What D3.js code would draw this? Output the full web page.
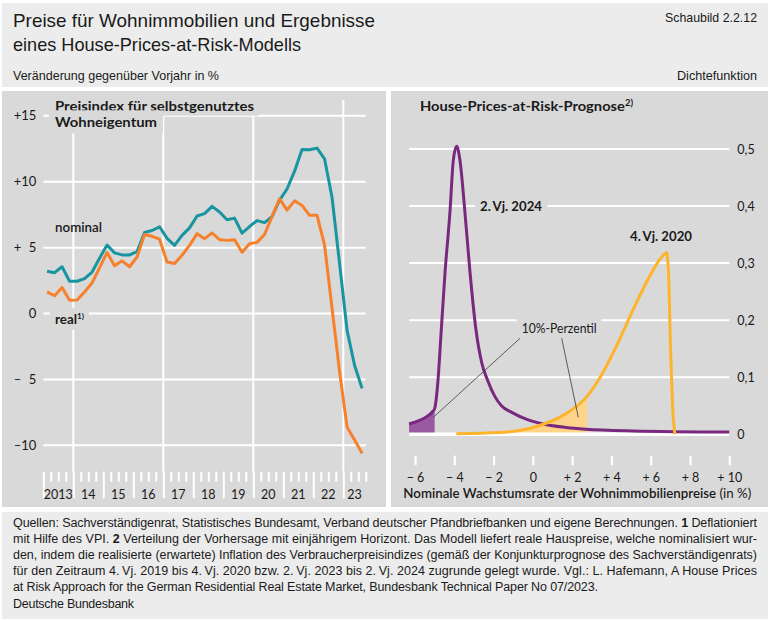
<!DOCTYPE html>
<html><head><meta charset="utf-8">
<script src="https://cdn.jsdelivr.net/npm/d3@7"></script>
<style>body{margin:0;background:#fff} svg{display:block}</style>
</head><body><svg id="c" width="770" height="621"></svg>
<script>
// ---------- DATA ----------
const quarterLabels = [
 "2013Q1","2013Q2","2013Q3","2013Q4","2014Q1","2014Q2","2014Q3","2014Q4",
 "2015Q1","2015Q2","2015Q3","2015Q4","2016Q1","2016Q2","2016Q3","2016Q4",
 "2017Q1","2017Q2","2017Q3","2017Q4","2018Q1","2018Q2","2018Q3","2018Q4",
 "2019Q1","2019Q2","2019Q3","2019Q4","2020Q1","2020Q2","2020Q3","2020Q4",
 "2021Q1","2021Q2","2021Q3","2021Q4","2022Q1","2022Q2","2022Q3","2022Q4",
 "2023Q1","2023Q2","2023Q3"];
const nominal = [3.2,3.1,3.55,2.45,2.45,2.65,3.15,4.2,5.2,4.6,4.45,4.45,4.7,6.15,6.3,6.58,
 5.7,5.17,5.93,6.5,7.4,7.58,8.13,7.7,7.12,7.24,6.1,6.6,7.05,6.9,7.35,8.6,
 9.45,10.8,12.45,12.42,12.55,11.74,8.8,3.8,-1.26,-3.92,-5.68];
const real = [1.64,1.35,1.97,1.0,1.03,1.64,2.32,3.47,4.63,3.62,4.0,3.55,4.29,6.0,5.86,5.64,
 3.91,3.79,4.42,5.17,6.06,5.68,6.11,5.6,5.55,5.6,4.65,5.3,5.4,6.0,7.35,8.7,
 7.85,8.55,8.2,7.45,7.45,5.2,0.4,-4.4,-8.6,-9.6,-10.6];
const yearLabels = ["2013","14","15","16","17","18","19","20","21","22","23"];
const leftYTicks = [15,10,5,0,-5,-10];
const leftYTickLabels = ["+15","+10","+\u20075","0","\u2013\u20075","\u201310"];
const leftVGrid = [2014,2017,2020,2023];

const growth2024 = [-6.3,-5.8,-5.4,-5.1,-5.0,-4.9,-4.8,-4.69,-4.47,-4.22,-4.05,-3.88,-3.71,-3.46,-3.2,-2.9,-2.6,-2.32,-1.93,-1.6,-1.05,-0.3,0.4,1.7,2.7,5.1,10.0];
const density2024 = [0.018,0.024,0.031,0.04,0.045,0.068,0.108,0.168,0.284,0.39,0.48,0.505,0.48,0.39,0.284,0.184,0.125,0.096,0.066,0.05,0.038,0.026,0.019,0.012,0.009,0.006,0.004];
const growth2020 = [-3.9,-1.7,-0.5,0.0,0.87,1.72,2.75,3.41,4.26,5.11,5.96,6.5,6.81,6.91,7.01,7.11,7.23];
const density2020 = [0.001,0.003,0.008,0.012,0.022,0.037,0.066,0.099,0.155,0.219,0.278,0.308,0.318,0.28,0.15,0.05,0.0];
const pct10_2024 = -5.0, pct10_2020 = 2.75;
const rightXTicks = [-6,-4,-2,0,2,4,6,8,10];
const rightXTickLabels = ["\u2212 6","\u2212 4","\u2212 2","0","+ 2","+ 4","+ 6","+ 8","+ 10"];
const rightYTicks = [0,0.1,0.2,0.3,0.4,0.5];
const rightYTickLabels = ["0","0,1","0,2","0,3","0,4","0,5"];

// ---------- STYLE ----------
const FONT = "Lato, 'Open Sans', sans-serif";
const COND = "'Liberation Sans Narrow', 'Liberation Sans', Arial, sans-serif";
const INK = "#1a1a1a";
const C_TEAL = "#1895a0", C_ORANGE = "#f7802d", C_PURPLE = "#79287f", C_YELLOW = "#fdb42b";
const C_PURPLE_FILL = "#9a5aa2", C_YELLOW_FILL = "#fed48a";
const BG_LIGHT = "#ececec", BG_PANEL = "#d9d9d9";

const svg = d3.select("#c");
svg.append("rect").attr("width",770).attr("height",621).attr("fill","#fff");
svg.append("rect").attr("x",2).attr("y",3).attr("width",766).attr("height",84).attr("fill",BG_LIGHT);
svg.append("rect").attr("x",2).attr("y",91).attr("width",384).attr("height",416).attr("fill",BG_PANEL);
svg.append("rect").attr("x",391).attr("y",91).attr("width",377).attr("height",416).attr("fill",BG_PANEL);
svg.append("rect").attr("x",2).attr("y",512).attr("width",766).attr("height",107).attr("fill",BG_LIGHT);

function addText(parent, x, y, parts, o = {}) {
  const t = parent.append("text").attr("x", x).attr("y", y)
    .attr("font-family", o.family || FONT).attr("font-size", o.size || 12)
    .attr("font-weight", o.weight || "normal").attr("fill", o.fill || INK)
    .attr("text-anchor", o.anchor || "start").style("white-space", "pre");
  (Array.isArray(parts) ? parts : [[parts]]).forEach(p => {
    const ts = t.append("tspan").text(p[0]);
    if (p[1]) for (const k in p[1]) ts.attr(k, p[1][k]);
  });
  if (o.len) t.attr("textLength", o.len).attr("lengthAdjust", o.adjust || "spacingAndGlyphs");
  return t;
}
function bgBox(t, padX, padY, fill) {
  const b = t.node().getBBox();
  const r = document.createElementNS("http://www.w3.org/2000/svg", "rect");
  t.node().parentNode.insertBefore(r, t.node());
  d3.select(r).attr("x", b.x - padX).attr("y", b.y - padY).attr("width", b.width + 2*padX)
   .attr("height", b.height + 2*padY).attr("fill", fill);
}

// ---------- HEADER ----------
addText(svg, 13, 27, "Preise für Wohnimmobilien und Ergebnisse", {family: COND, size: 19, len: 362});
addText(svg, 13, 50.5, "eines House-Prices-at-Risk-Modells", {family: COND, size: 19, len: 288});
addText(svg, 757, 22, "Schaubild 2.2.12", {family: COND, size: 13, anchor: "end", len: 92});
addText(svg, 13, 80, "Veränderung gegenüber Vorjahr in %", {family: COND, size: 13, len: 206});
addText(svg, 757, 80, "Dichtefunktion", {family: COND, size: 13, anchor: "end", len: 80});

// ---------- LEFT CHART ----------
const gL = svg.append("g");
const xL = d3.scaleLinear().domain([2013, 2023.75]).range([43.3, 365.8]);
const yL = d3.scaleLinear().domain([-12, 16.2]).range([471.7, 100]);
const qPos = q => +q.slice(0,4) + (+q[5] - 1) * 0.25 + 0.125;

gL.selectAll(".hg").data(leftYTicks).join("line")
  .attr("x1", xL(2013)).attr("x2", xL(2023.75)).attr("y1", d => yL(d)).attr("y2", d => yL(d))
  .attr("stroke", "#fff").attr("stroke-width", 2);
gL.selectAll(".vg").data(leftVGrid).join("line")
  .attr("x1", d => xL(d)).attr("x2", d => xL(d)).attr("y1", yL(16.2)).attr("y2", yL(-12))
  .attr("stroke", "#fff").attr("stroke-width", 2);

const yAxisL = d3.axisLeft(yL).tickValues(leftYTicks).tickSize(0).tickPadding(7)
  .tickFormat((d, i) => leftYTickLabels[i]);
const gya = gL.append("g").attr("transform", `translate(${xL(2013)},0)`).call(yAxisL);
gya.select(".domain").remove();
gya.selectAll("text").attr("font-family", FONT).attr("font-size", 13).attr("fill", INK);

const qTicks = d3.range(2013, 2023.76, 0.25);
const xAxisL = d3.axisBottom(xL).tickValues(qTicks).tickSize(10).tickFormat("");
const gxa = gL.append("g").attr("transform", `translate(0,${yL(-12)})`).call(xAxisL);
gxa.select(".domain").remove();
gxa.selectAll(".tick line").attr("stroke", "#fff").attr("stroke-width", 2)
  .attr("y2", d => Math.abs(d - Math.round(d)) < 1e-6 ? 26.5 : 10);
gL.selectAll(".yl").data(yearLabels).join("text")
  .attr("x", (d, i) => (xL(2013 + i) + xL(Math.min(2014 + i, 2023.75))) / 2)
  .attr("y", 498.5).attr("text-anchor", "middle")
  .attr("font-family", FONT).attr("font-size", 12.5).attr("fill", INK).text(d => d);

const lt1 = addText(gL, 55, 110.7, "Preisindex für selbstgenutztes", {weight: "bold", size: 14, len: 199});
bgBox(lt1, 5, 2, BG_PANEL);
const lt2 = addText(gL, 55, 127.3, "Wohneigentum", {weight: "bold", size: 14, len: 102});
bgBox(lt2, 6, 3, BG_PANEL);
addText(gL, 55, 231.7, "nominal", {size: 13, weight: 600, len: 47});
const realT = addText(gL, 55, 324, [["real"], ["1)", {"font-size": 8, dy: -5}]], {size: 13, weight: "bold", len: 29});
bgBox(realT, 5, 3, BG_PANEL);

const lineL = d3.line().x((d, i) => xL(qPos(quarterLabels[i]))).y(d => yL(d));
gL.append("path").datum(nominal).attr("d", lineL).attr("fill", "none")
  .attr("stroke", C_TEAL).attr("stroke-width", 3).attr("stroke-linejoin", "round");
gL.append("path").datum(real).attr("d", lineL).attr("fill", "none")
  .attr("stroke", C_ORANGE).attr("stroke-width", 3).attr("stroke-linejoin", "round");

// ---------- RIGHT CHART ----------
const gR = svg.append("g");
const xR = d3.scaleLinear().domain([-6, 10]).range([415, 729.3]);
const yR = d3.scaleLinear().domain([0, 0.5]).range([434.3, 149]);
const xLeftR = xR(-6.3);

gR.selectAll(".hg").data(rightYTicks.filter(d => d > 0)).join("line")
  .attr("x1", xLeftR).attr("x2", xR(10)).attr("y1", d => yR(d)).attr("y2", d => yR(d))
  .attr("stroke", "#fff").attr("stroke-width", 2);

const yAxisR = d3.axisRight(yR).tickValues(rightYTicks).tickSize(0).tickPadding(8)
  .tickFormat((d, i) => rightYTickLabels[i]);
const gyr = gR.append("g").attr("transform", `translate(${xR(10)},0)`).call(yAxisR);
gyr.select(".domain").remove();
gyr.selectAll("text").attr("font-family", FONT).attr("font-size", 12.5).attr("fill", INK);

const xAxisR = d3.axisBottom(xR).tickValues(rightXTicks).tickSize(9.5).tickPadding(8)
  .tickFormat((d, i) => rightXTickLabels[i]);
const gxr = gR.append("g").attr("transform", `translate(0,455.7)`).call(xAxisR);
gxr.select(".domain").remove();
gxr.selectAll(".tick line").attr("stroke", "#fff").attr("stroke-width", 2.2);
gxr.selectAll("text").attr("font-family", FONT).attr("font-size", 12.5).attr("fill", INK);

addText(gR, 403.3, 498.3, [["Nominale Wachstumsrate der Wohnimmobilienpreise", {"font-weight": 600}], [" (in %)"]],
  {size: 13, len: 348});

const d24 = growth2024.map((g, i) => ({x: g, y: density2024[i]}));
const d20 = growth2020.map((g, i) => ({x: g, y: density2020[i]}));
const areaR = d3.area().curve(d3.curveMonotoneX).x(d => xR(d.x)).y0(yR(0)).y1(d => yR(d.y));
const lineR = d3.line().curve(d3.curveMonotoneX).x(d => xR(d.x)).y(d => yR(d.y));

const defs = svg.append("defs");
defs.append("clipPath").attr("id", "clip24").append("rect")
  .attr("x", 0).attr("y", 0).attr("width", xR(pct10_2024)).attr("height", 621);
defs.append("clipPath").attr("id", "clip20").append("rect")
  .attr("x", 0).attr("y", 0).attr("width", xR(pct10_2020)).attr("height", 621);

gR.append("path").datum(d24).attr("d", areaR).attr("fill", C_PURPLE_FILL).attr("clip-path", "url(#clip24)");
gR.append("path").datum(d20).attr("d", areaR).attr("fill", C_YELLOW_FILL).attr("clip-path", "url(#clip20)");

gR.append("line").attr("x1", xLeftR).attr("x2", xR(10)).attr("y1", yR(0)).attr("y2", yR(0))
  .attr("stroke", "#fff").attr("stroke-width", 3.5);

gR.append("path").datum(d24).attr("d", lineR).attr("fill", "none")
  .attr("stroke", C_PURPLE).attr("stroke-width", 3).attr("stroke-linejoin", "round");
gR.append("path").datum(d20).attr("d", lineR).attr("fill", "none")
  .attr("stroke", C_YELLOW).attr("stroke-width", 3).attr("stroke-linejoin", "round");

addText(gR, 420, 110.7, [["House-Prices-at-Risk-Prognose"], ["2)", {"font-size": 9, dy: -5}]],
  {weight: "bold", size: 14, len: 213});
const a24 = addText(gR, 480, 210.7, "2.\u2009Vj. 2024", {weight: "bold", size: 13, len: 62});
bgBox(a24, 5, 2, BG_PANEL);
addText(gR, 630, 240.7, "4.\u2009Vj. 2020", {weight: "bold", size: 13, len: 62});
const pz = addText(gR, 521.7, 332.7, "10%-Perzentil", {size: 13, len: 75});
bgBox(pz, 5, 2, BG_PANEL);
gR.append("line").attr("x1", 520).attr("y1", 338.3).attr("x2", 433.3).attr("y2", 417.3)
  .attr("stroke", "#3a3a3a").attr("stroke-width", 0.8);
gR.append("line").attr("x1", 561.7).attr("y1", 338.3).attr("x2", 578.3).attr("y2", 417.3)
  .attr("stroke", "#3a3a3a").attr("stroke-width", 0.8);

// ---------- FOOTNOTE ----------
const fn = svg.append("g");
const FS = 12.5;
addText(fn, 13, 527, [["Quellen: Sachverständigenrat, Statistisches Bundesamt, Verband deutscher Pfandbriefbanken und eigene Berechnungen. "], ["1", {"font-weight": "bold"}], [" Deflationiert"]], {family: COND, size: FS, len: 744, adjust: "spacing"});
addText(fn, 13, 543, [["mit Hilfe des VPI. "], ["2", {"font-weight": "bold"}], [" Verteilung der Vorhersage mit einjährigem Horizont. Das Modell liefert reale Hauspreise, welche nominalisiert wur-"]], {family: COND, size: FS, len: 744, adjust: "spacing"});
addText(fn, 13, 559, "den, indem die realisierte (erwartete) Inflation des Verbraucherpreisindizes (gemäß der Konjunkturprognose des Sachverständigenrats)", {family: COND, size: FS, len: 744, adjust: "spacing"});
addText(fn, 13, 575, "für den Zeitraum 4.\u2009Vj. 2019 bis 4.\u2009Vj. 2020 bzw. 2.\u2009Vj. 2023 bis 2.\u2009Vj. 2024 zugrunde gelegt wurde. Vgl.: L. Hafemann, A House Prices", {family: COND, size: FS, len: 744, adjust: "spacing"});
addText(fn, 13, 591, "at Risk Approach for the German Residential Real Estate Market, Bundesbank Technical Paper No 07/2023.", {family: COND, size: FS, len: 585, adjust: "spacing"});
addText(fn, 13, 608, "Deutsche Bundesbank", {family: COND, size: FS, len: 121, adjust: "spacing"});
</script></body></html>
